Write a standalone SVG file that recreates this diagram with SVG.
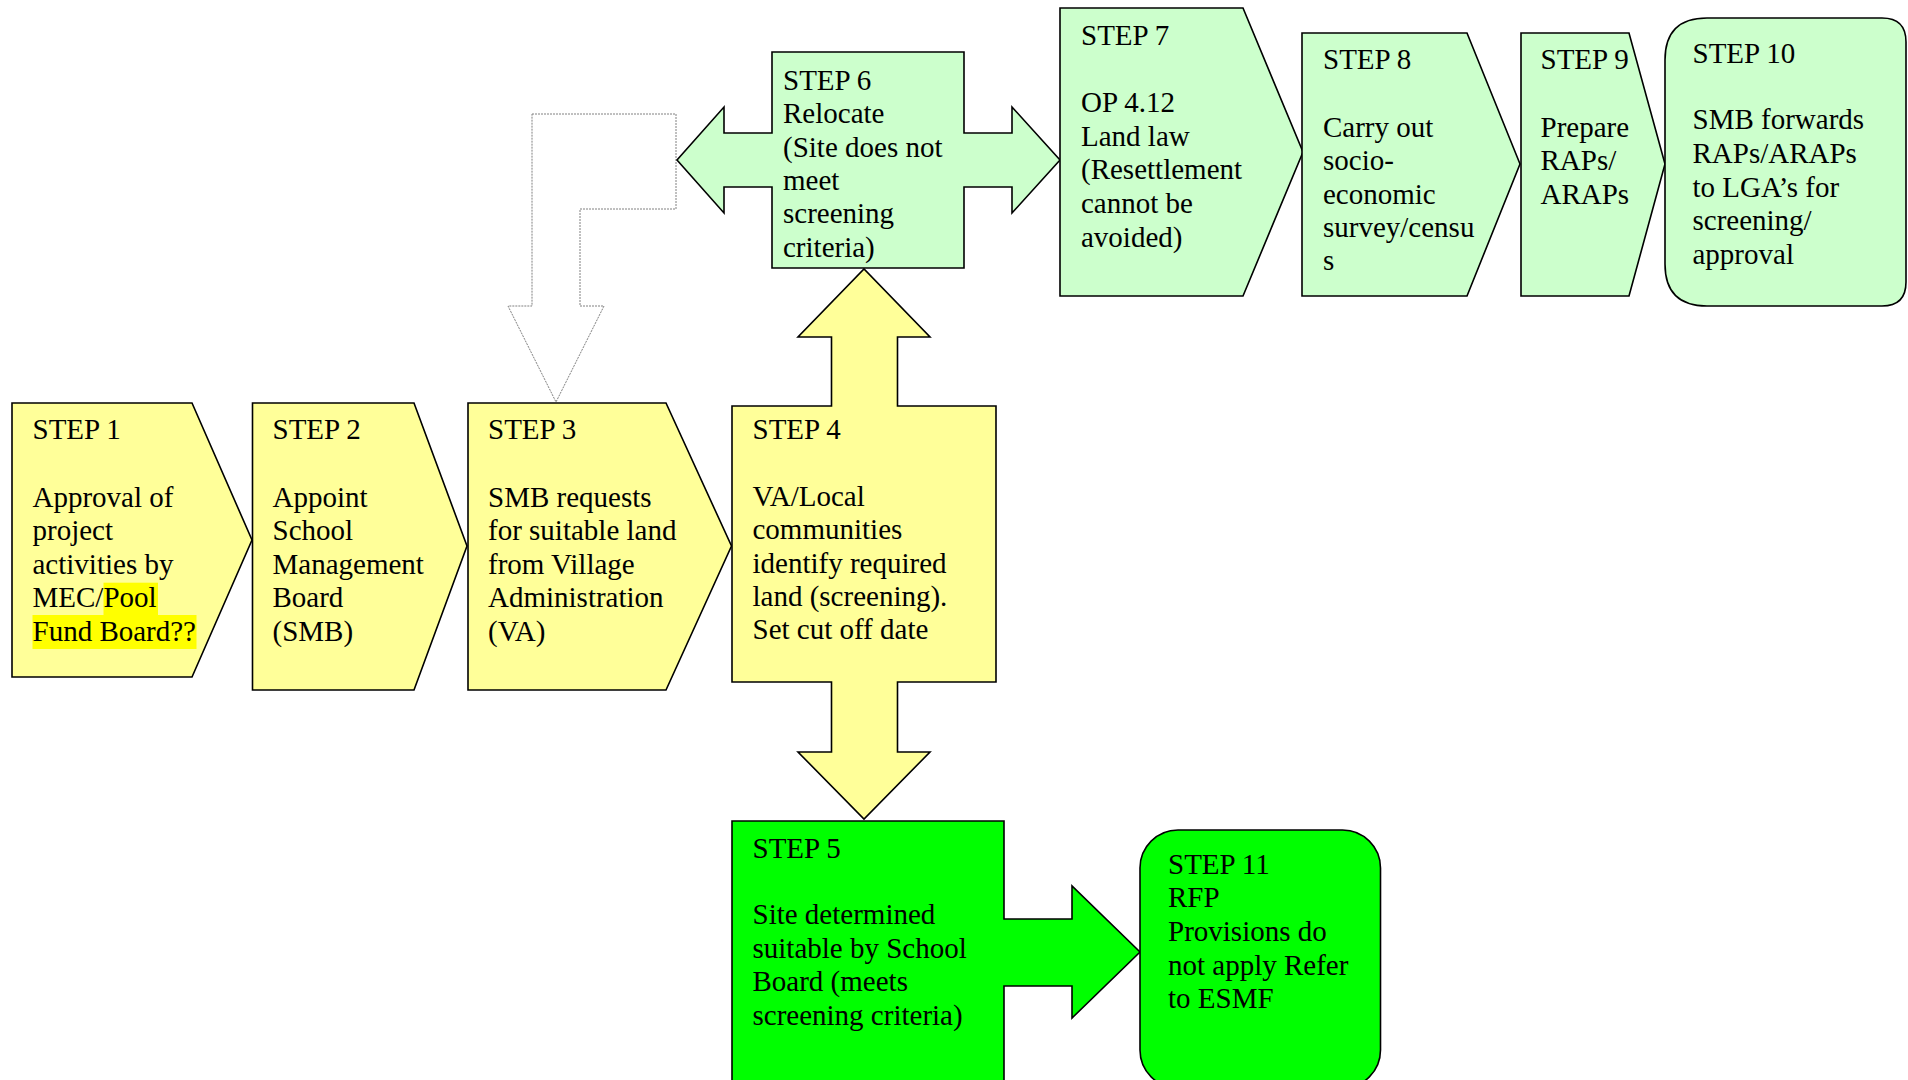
<svg xmlns="http://www.w3.org/2000/svg" width="1908" height="1080" viewBox="0 0 1908 1080">
<style>
.s{stroke:#000;stroke-width:1.6;stroke-linejoin:miter}
.y{fill:#FFFF99}
.g{fill:#CCFFCC}
.G{fill:#00FF00}
.t{font-family:"Liberation Serif","Times New Roman",serif;font-size:29px;fill:#000}
.hl{fill:#FFFF00}
.dot{fill:#fff;stroke:#808080;stroke-width:1;stroke-dasharray:2 1}
</style>
<rect width="1908" height="1080" fill="#fff"/>
<g id="connectors">
<path class="dot" d="M532,114 L676,114 L676,209 L580,209 L580,306 L604,306 L556,402 L508,306 L532,306 Z"/>
</g>
<g id="step1">
<path class="s y" d="M12,403 L192,403 L252,540 L192,677 L12,677 Z"/>
<rect class="hl" x="103.5" y="582.7" width="54.5" height="32.3"/>
<rect class="hl" x="32.5" y="615" width="164" height="34"/>
<text class="t"><tspan x="32.5" y="439">STEP 1</tspan><tspan x="32.5" y="506.5">Approval of</tspan><tspan x="32.5" y="540">project</tspan><tspan x="32.5" y="573.5">activities by</tspan><tspan x="32.5" y="607">MEC/Pool</tspan><tspan x="32.5" y="640.5">Fund Board??</tspan></text>
</g>
<g id="step2">
<path class="s y" d="M252.5,403 L414,403 L467,546 L414,690 L252.5,690 Z"/>
<text class="t"><tspan x="272.5" y="439">STEP 2</tspan><tspan x="272.5" y="506.5">Appoint</tspan><tspan x="272.5" y="540">School</tspan><tspan x="272.5" y="573.5">Management</tspan><tspan x="272.5" y="607">Board</tspan><tspan x="272.5" y="640.5">(SMB)</tspan></text>
</g>
<g id="step3">
<path class="s y" d="M468,403 L666,403 L731.5,546 L666,690 L468,690 Z"/>
<text class="t"><tspan x="488" y="439">STEP 3</tspan><tspan x="488" y="506.5">SMB requests</tspan><tspan x="488" y="540">for suitable land</tspan><tspan x="488" y="573.5">from Village</tspan><tspan x="488" y="607">Administration</tspan><tspan x="488" y="640.5">(VA)</tspan></text>
</g>
<g id="step4">
<path class="s y" d="M732,406 L831.5,406 L831.5,337 L798,337 L864,269 L930,337 L897.5,337 L897.5,406 L996,406 L996,682 L897.5,682 L897.5,752 L930,752 L864,819 L798,752 L831.5,752 L831.5,682 L732,682 Z"/>
<text class="t"><tspan x="752.5" y="438.5">STEP 4</tspan><tspan x="752.5" y="505.5">VA/Local</tspan><tspan x="752.5" y="539">communities</tspan><tspan x="752.5" y="572.5">identify required</tspan><tspan x="752.5" y="606">land (screening).</tspan><tspan x="752.5" y="639.3">Set cut off date</tspan></text>
</g>
<g id="step6">
<path class="s g" d="M772,52 L964,52 L964,133 L1012,133 L1012,107 L1060,160 L1012,213 L1012,187 L964,187 L964,268 L772,268 L772,187 L724,187 L724,213 L677,160 L724,107 L724,133 L772,133 Z"/>
<text class="t"><tspan x="783" y="89.5">STEP 6</tspan><tspan x="783" y="123">Relocate</tspan><tspan x="783" y="156.5">(Site does not</tspan><tspan x="783" y="190">meet</tspan><tspan x="783" y="223.3">screening</tspan><tspan x="783" y="256.7">criteria)</tspan></text>
</g>
<g id="step7">
<path class="s g" d="M1060,8 L1243,8 L1303,152 L1243,296 L1060,296 Z"/>
<text class="t"><tspan x="1081" y="44.5">STEP 7</tspan><tspan x="1081" y="111.5">OP 4.12</tspan><tspan x="1081" y="145.5">Land law</tspan><tspan x="1081" y="179.3">(Resettlement</tspan><tspan x="1081" y="212.8">cannot be</tspan><tspan x="1081" y="246.5">avoided)</tspan></text>
</g>
<g id="step8">
<path class="s g" d="M1302,33 L1467,33 L1520,164 L1467,296 L1302,296 Z"/>
<text class="t"><tspan x="1323" y="68.5">STEP 8</tspan><tspan x="1323" y="136.5">Carry out</tspan><tspan x="1323" y="170">socio-</tspan><tspan x="1323" y="203.5">economic</tspan><tspan x="1323" y="237">survey/censu</tspan><tspan x="1323" y="270.3">s</tspan></text>
</g>
<g id="step9">
<path class="s g" d="M1521,33 L1629,33 L1665,164 L1629,296 L1521,296 Z"/>
<text class="t"><tspan x="1540.5" y="68.5">STEP 9</tspan><tspan x="1540.5" y="136.5">Prepare</tspan><tspan x="1540.5" y="170">RAPs/</tspan><tspan x="1540.5" y="203.5">ARAPs</tspan></text>
</g>
<g id="step10">
<path class="s g" d="M1707,18 L1882,18 Q1906,18 1906,42 L1906,282 Q1906,306 1882,306 L1707,306 Q1665,306 1665,264 L1665,60 Q1665,18 1707,18 Z"/>
<text class="t"><tspan x="1692.5" y="62.5">STEP 10</tspan><tspan x="1692.5" y="129">SMB forwards</tspan><tspan x="1692.5" y="163">RAPs/ARAPs</tspan><tspan x="1692.5" y="196.7">to LGA’s for</tspan><tspan x="1692.5" y="230">screening/</tspan><tspan x="1692.5" y="263.5">approval</tspan></text>
</g>
<g id="step5">
<path class="s G" d="M732,821 L1004,821 L1004,919 L1072,919 L1072,886 L1140,952 L1072,1018 L1072,986 L1004,986 L1004,1090 L732,1090 Z"/>
<text class="t"><tspan x="752.5" y="857.5">STEP 5</tspan><tspan x="752.5" y="924">Site determined</tspan><tspan x="752.5" y="957.5">suitable by School</tspan><tspan x="752.5" y="991">Board (meets</tspan><tspan x="752.5" y="1024.5">screening criteria)</tspan></text>
</g>
<g id="step11">
<rect class="s G" x="1140" y="830" width="240.5" height="258" rx="38" ry="38"/>
<text class="t"><tspan x="1168" y="874">STEP 11</tspan><tspan x="1168" y="907">RFP</tspan><tspan x="1168" y="940.7">Provisions do</tspan><tspan x="1168" y="974.5">not apply Refer</tspan><tspan x="1168" y="1008.3">to ESMF</tspan></text>
</g>
</svg>
